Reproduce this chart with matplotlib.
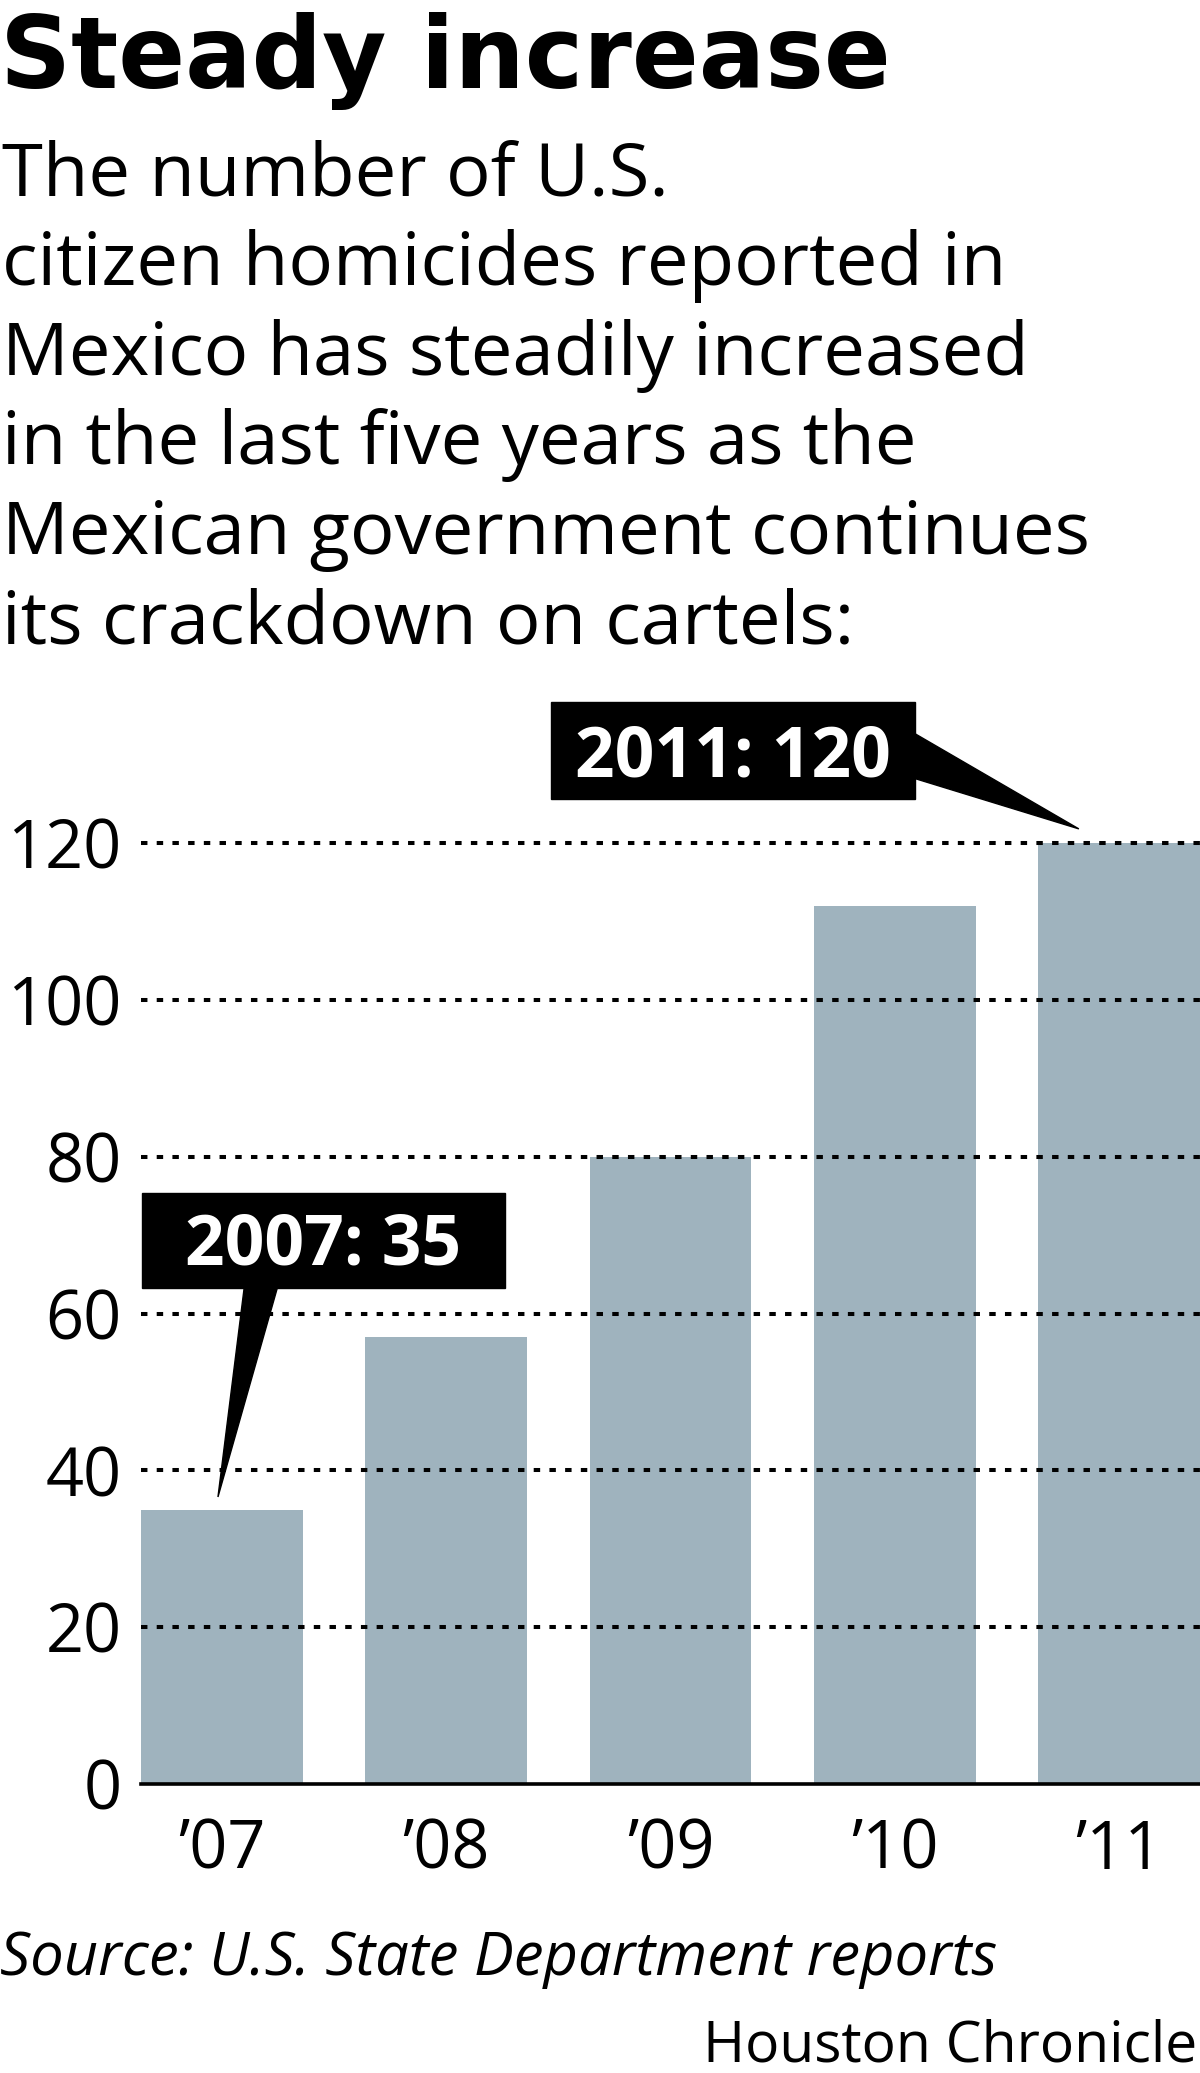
import matplotlib.pyplot as plt
from matplotlib.patches import Rectangle, Polygon

# data
years = ["\u201907", "\u201908", "\u201909", "\u201910", "\u201911"]
homicides = [35, 57, 80, 112, 120]
y_ticks = [0, 20, 40, 60, 80, 100, 120]

title = "Steady increase"
subtitle = [
    "The number of U.S.",
    "citizen homicides reported in",
    "Mexico has steadily increased",
    "in the last five years as the",
    "Mexican government continues",
    "its crackdown on cartels:",
]
source = "Source: U.S. State Department reports"
credit = "Houston Chronicle"

W, H = 1200, 2073
FONT = "Open Sans"
BAR = "#9fb3be"

fig = plt.figure(figsize=(W / 100, H / 100), dpi=100)


def fy(py):
    # pixel row from top -> figure fraction
    return 1 - py / H


fig.text(0.0, fy(88), title, fontsize=71, fontweight="bold",
         family="DejaVu Sans", va="baseline", ha="left")
for i, line in enumerate(subtitle):
    fig.text(0.002, fy(196 + i * 89.4), line, fontsize=53.5, family=FONT,
             va="baseline", ha="left")

ax = fig.add_axes([141 / W, fy(1784), 1 - 141 / W, (1784 - 843) / H])
x = range(len(years))
ax.bar(x, homicides, width=0.72, color=BAR, zorder=1)
ax.set_xlim(-0.36, len(years) - 1 + 0.36)
ax.set_ylim(0, 120)

ax.set_yticks(y_ticks)
ax.set_yticklabels([str(v) for v in y_ticks], fontsize=48, family=FONT)
ax.set_xticks(list(x))
ax.set_xticklabels(years, fontsize=48, family=FONT)
ax.tick_params(axis="y", length=0, pad=14)
ax.tick_params(axis="x", length=0, pad=24)
for s in ax.spines.values():
    s.set_visible(False)

for v in y_ticks[1:]:
    ax.axhline(v, color="black", lw=2.9, ls=(0, (1.6, 2.3)), zorder=3,
               clip_on=False)
ax.axhline(0, color="black", lw=2.6, zorder=3, clip_on=False)


def callout(label, x0, x1, y0, y1, base, tip, tx, ty):
    ax.add_patch(Rectangle((x0, y0), x1 - x0, y1 - y0, color="black",
                           clip_on=False, zorder=5))
    ax.add_patch(Polygon([base[0], base[1], tip], closed=True, color="black",
                         clip_on=False, zorder=5))
    ax.text(tx, ty, label, color="white", fontsize=50, fontweight="bold",
            family=FONT, ha="center", va="baseline", zorder=6, clip_on=False)


# 2007 callout (box above-left, pointer down onto first bar)
callout("2007: 35", -0.356, 1.262, 63.25, 75.36,
        [(0.103, 64.0), (0.255, 64.0)], (0 - 0.017, homicides[0] + 1.6),
        0.453, 66.2)
# 2011 callout (box above, pointer onto last bar)
callout("2011: 120", 1.467, 3.089, 125.6, 138.0,
        [(3.08, 134.1), (3.08, 128.3)], (4 - 0.18, homicides[4] + 1.8),
        2.277, 128.5)

fig.text(0.0, fy(1975), source, fontsize=43, style="italic", family=FONT,
         va="baseline", ha="left")
fig.text(0.998, fy(2061), credit, fontsize=41, family=FONT,
         va="baseline", ha="right")

fig.savefig("out.png", dpi=100, facecolor="white")
